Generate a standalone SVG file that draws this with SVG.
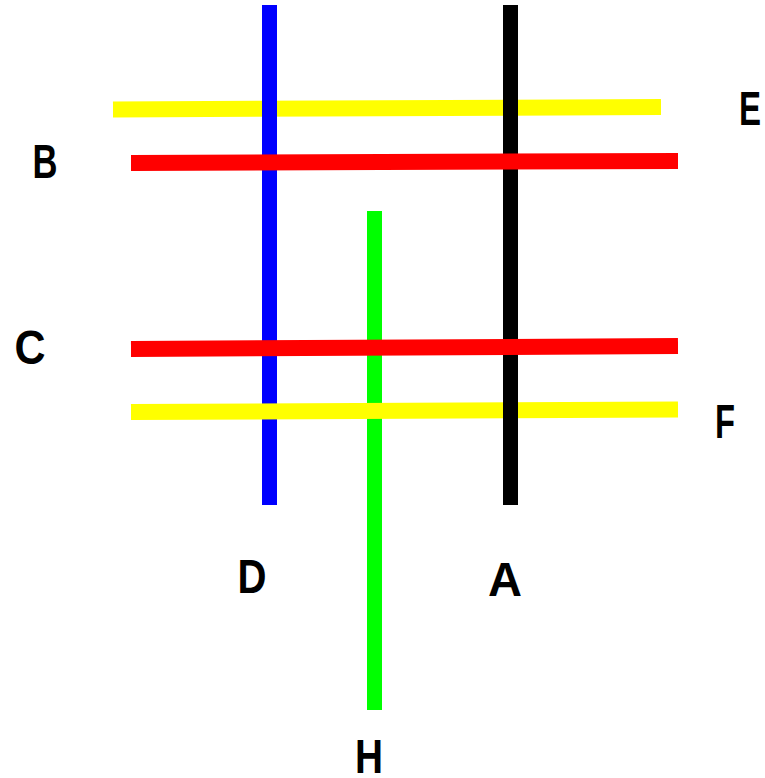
<svg xmlns="http://www.w3.org/2000/svg" width="765" height="778" viewBox="0 0 765 778">
<style>
.ln{fill:none;stroke-width:16;stroke-linecap:butt}
.v{stroke-width:15}
.lbl{font-family:"Liberation Sans",Arial,sans-serif;font-weight:bold;font-size:48px;fill:#000;text-anchor:middle}
</style>
<rect width="765" height="778" fill="#fff"/>
<g id="connectors">
<line id="lineE" class="ln" stroke="#ffff00" x1="113" y1="109.5" x2="661" y2="107"/>
<line id="lineD" class="ln v" stroke="#0000ff" x1="269.5" y1="5" x2="269.5" y2="505"/>
<line id="lineH" class="ln v" stroke="#00ff00" x1="374.5" y1="211" x2="374.5" y2="710"/>
<line id="lineF" class="ln" stroke="#ffff00" x1="131" y1="412" x2="678" y2="409.5"/>
<line id="lineA" class="ln v" stroke="#000000" x1="510.5" y1="5" x2="510.5" y2="505"/>
<line id="lineB" class="ln" stroke="#ff0000" x1="131" y1="163" x2="678" y2="161"/>
<line id="lineC" class="ln" stroke="#ff0000" x1="131" y1="349" x2="678" y2="346"/>
</g>
<g id="label-E"><text class="lbl" x="750" y="125" textLength="22" lengthAdjust="spacingAndGlyphs">E</text></g>
<g id="label-B"><text class="lbl" x="45" y="178" textLength="25" lengthAdjust="spacingAndGlyphs">B</text></g>
<g id="label-C"><text class="lbl" x="30" y="364" textLength="31" lengthAdjust="spacingAndGlyphs">C</text></g>
<g id="label-F"><text class="lbl" x="725" y="438" textLength="20" lengthAdjust="spacingAndGlyphs">F</text></g>
<g id="label-D"><text class="lbl" x="252" y="593" textLength="29" lengthAdjust="spacingAndGlyphs">D</text></g>
<g id="label-A"><text class="lbl" x="505" y="596" textLength="34" lengthAdjust="spacingAndGlyphs">A</text></g>
<g id="label-H"><text class="lbl" x="369" y="773" textLength="28" lengthAdjust="spacingAndGlyphs">H</text></g>
</svg>
